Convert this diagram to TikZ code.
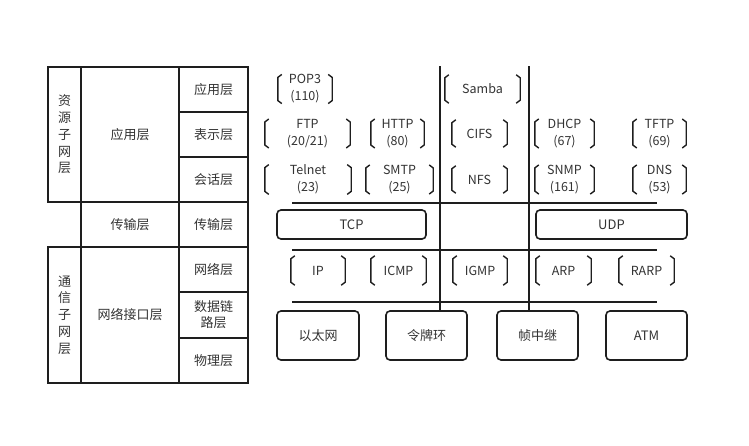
\documentclass[tikz,border=0pt]{standalone}
\usepackage{fontspec}
\setmainfont{Noto Sans CJK SC}
\usepackage{tikz}
\usetikzlibrary{positioning,calc}
\definecolor{txtgray}{RGB}{51,51,51}
\definecolor{linegray}{RGB}{30,30,30}

\tikzset{
  cell/.style={draw=linegray, line width=2, inner sep=0pt, align=center,
    text=txtgray, font=\fontsize{13}{16}\selectfont},
  proto/.style={minimum width=#1, minimum height=28, inner sep=0pt, align=center,
    text=txtgray, font=\fontsize{12.5}{17}\selectfont},
  rbox/.style={draw=linegray, rounded corners=4, line width=1.6, inner sep=0pt,
    text=txtgray, font=\fontsize{13}{16}\selectfont},
  brk/.style={draw=linegray, line width=1.4},
  sep/.style={draw=linegray, line width=2.2},
}

\begin{document}
\begin{tikzpicture}[x=1pt, y=-1pt]
\useasboundingbox (0,0) rectangle (749,445);

% Left table: sub-networks
\node[cell, minimum width=33, minimum height=135, font=\fontsize{13}{16.75}\selectfont] (res) at (64.5,134.5) {资\\源\\子\\网\\层};
\node[cell, minimum width=33, minimum height=136, font=\fontsize{13}{16.75}\selectfont] (com) at (64.5,315) {通\\信\\子\\网\\层};

% Left table: TCP/IP layers
\node[cell, minimum width=98, minimum height=135] (tapp) at (130,134.5) {应用层};
\node[cell, minimum width=98, minimum height=45] (ttrans) at (130,224.5) {传输层};
\node[cell, minimum width=98, minimum height=136] (tnet) at (130,315) {网络接口层};

% Left table: OSI layers
\node[cell, minimum width=69, minimum height=45] (oapp) at (213.5,89.5) {应用层};
\node[cell, minimum width=69, minimum height=45] (opre) at (213.5,134.5) {表示层};
\node[cell, minimum width=69, minimum height=45] (oses) at (213.5,179.5) {会话层};
\node[cell, minimum width=69, minimum height=45] (otrans) at (213.5,224.5) {传输层};
\node[cell, minimum width=69, minimum height=45] (onet) at (213.5,269.5) {网络层};
\node[cell, minimum width=69, minimum height=46] (olink) at (213.5,315) {数据链\\路层};
\node[cell, minimum width=69, minimum height=45] (ophy) at (213.5,360.5) {物理层};

% Application protocols
\node[proto=56] (pop) at (305,89) {POP3\\(110)};
\node[proto=77] (samba) at (482.5,89) {Samba};
\node[proto=87, minimum height=27] (ftp) at (307.5,133.5) {FTP\\(20/21)};
\node[proto=55, minimum height=27] (http) at (397.5,133.5) {HTTP\\(80)};
\node[proto=57, minimum height=27] (cifs) at (479.5,133.5) {CIFS};
\node[proto=61, minimum height=27] (dhcp) at (564.5,133.5) {DHCP\\(67)};
\node[proto=55, minimum height=27] (tftp) at (659.5,133.5) {TFTP\\(69)};
\node[proto=88, minimum height=27] (telnet) at (308,179.5) {Telnet\\(23)};
\node[proto=69, minimum height=27] (smtp) at (399.5,179.5) {SMTP\\(25)};
\node[proto=57, minimum height=27] (nfs) at (479.5,179.5) {NFS};
\node[proto=61, minimum height=27] (snmp) at (564.5,179.5) {SNMP\\(161)};
\node[proto=55, minimum height=27] (dns) at (659.5,179.5) {DNS\\(53)};

% Transport protocols
\node[rbox, minimum width=149, minimum height=29] (tcp) at (351.5,224.5) {TCP};
\node[rbox, minimum width=151, minimum height=29] (udp) at (611.5,224.5) {UDP};

% Network protocols
\node[proto=56, minimum height=29] (ip) at (318,270.5) {IP};
\node[proto=57, minimum height=29] (icmp) at (398.5,270.5) {ICMP};
\node[proto=56, minimum height=29] (igmp) at (480,270.5) {IGMP};
\node[proto=57, minimum height=29] (arp) at (563.5,270.5) {ARP};
\node[proto=57, minimum height=29] (rarp) at (646.5,270.5) {RARP};

% Link technologies
\node[rbox, minimum width=82, minimum height=49] (eth) at (318,335.5) {以太网};
\node[rbox, minimum width=81, minimum height=49] (ring) at (426.5,335.5) {令牌环};
\node[rbox, minimum width=81, minimum height=49] (relay) at (537.5,335.5) {帧中继};
\node[rbox, minimum width=81, minimum height=49] (atm) at (646.5,335.5) {ATM};

% Brackets round the protocols
\foreach \n in {pop,samba,ftp,http,cifs,dhcp,tftp,telnet,smtp,nfs,snmp,dns,ip,icmp,igmp,arp,rarp}{
  \draw[brk] ([xshift=5]\n.north west) -- ([xshift=1,yshift=-3]\n.north west)
    -- ([xshift=1,yshift=3]\n.south west) -- ([xshift=5]\n.south west);
  \draw[brk] ([xshift=-5]\n.north east) -- ([xshift=-1,yshift=-3]\n.north east)
    -- ([xshift=-1,yshift=3]\n.south east) -- ([xshift=-5]\n.south east);
}

% Separators
\coordinate (v1) at (440,66);
\coordinate (v2) at (529,66);
\draw[sep] (v1) -- (v1 |- ring.north);
\draw[sep] (v2) -- (v2 |- relay.north);
\coordinate (h1l) at (292,203);
\coordinate (h1r) at (657,203);
\coordinate (h2l) at (292,250);
\coordinate (h2r) at (657,250);
\coordinate (h3l) at (292,302);
\coordinate (h3r) at (657,302);
\draw[sep] (h1l) -- (h1r);
\draw[sep] (h2l) -- (h2r);
\draw[sep] (h3l) -- (h3r);
\end{tikzpicture}
\end{document}
